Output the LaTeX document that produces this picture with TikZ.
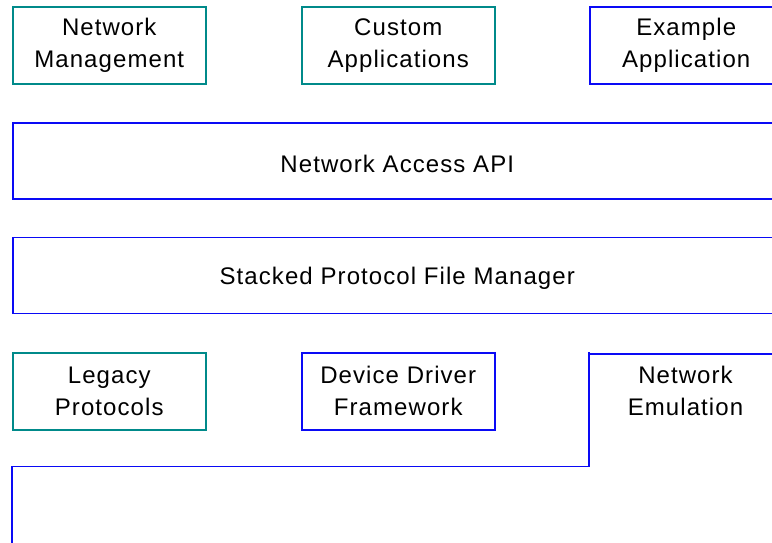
\documentclass[tikz,border=0pt]{standalone}
\usepackage{fontspec}
\setmainfont{Liberation Sans}[LetterSpace=4.5]
\definecolor{tealline}{RGB}{0,138,138}
\definecolor{blueline}{RGB}{10,10,245}
\begin{document}
\begin{tikzpicture}[x=1pt,y=-1pt,
  layerbox/.style={draw, line width=1.5pt, minimum width=193pt, minimum height=77pt,
    anchor=north west, inner sep=0pt},
  tealbox/.style={layerbox, draw=tealline},
  bluebox/.style={layerbox, draw=blueline},
  widebox/.style={draw=blueline, line width=1.5pt, minimum width=769pt, minimum height=76pt,
    anchor=north west, inner sep=0pt},
  lbl/.style={align=center, font=\fontsize{24}{32}\selectfont, text=black}]
\useasboundingbox (0,0) rectangle (772,542);
% application layer
\node[tealbox] (nm) at (12,6) {};
\node[lbl] at (nm.center) {Network\\Management};
\node[tealbox] (ca) at (301,6) {};
\node[lbl] at (ca.center) {Custom\\Applications};
\node[bluebox] (ea) at (589,6) {};
\node[lbl] at (ea.center) {Example\\Application};
% API and file manager
\node[widebox] (api) at (12,122) {};
\node[lbl] at ([yshift=-3pt]api.center) {Network Access API};
\node[widebox] (spfm) at (12,236.5) {};
\node[lbl] at ([yshift=-3pt]spfm.center) {Stacked Protocol File Manager};
% protocol layer
\node[tealbox] (lp) at (12,352) {};
\node[lbl] at (lp.center) {Legacy\\Protocols};
\node[bluebox] (ddf) at (301,352) {};
\node[lbl] at (ddf.center) {Device Driver\\Framework};
% emulation block wrapping under the protocol layer
\coordinate (em) at (685.5,390.5);
\node[lbl] at (em) {Network\\Emulation};
\draw[blueline, line width=1.5pt] (800,354) -- (589,354);
\draw[blueline, line width=1.5pt] (589,352) -- (589,466.5) -- (12,466.5) -- (12,560);
\end{tikzpicture}
\end{document}
